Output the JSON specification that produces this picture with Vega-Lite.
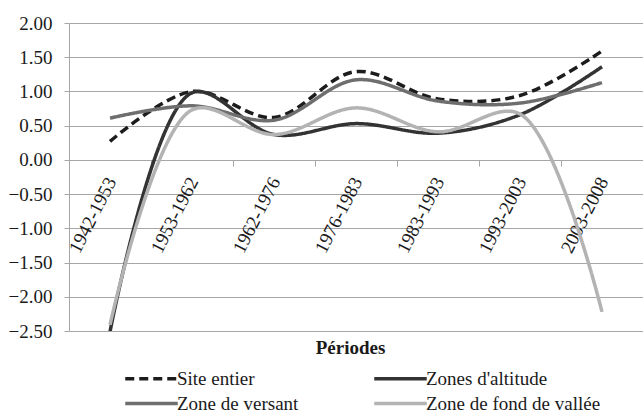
{
  "$schema": "https://vega.github.io/schema/vega-lite/v6.json",
  "width": 574,
  "height": 308,
  "autosize": {"type": "none"},
  "padding": {"left": 69, "top": 23, "right": 0, "bottom": 84},
  "background": "white",
  "config": {
    "font": "Times New Roman",
    "view": {"stroke": null},
    "axis": {"labelFont": "Times New Roman", "titleFont": "Times New Roman", "labelColor": "#1a1a1a", "titleColor": "#1a1a1a"},
    "legend": {"labelFont": "Times New Roman"}
  },
  "data": {
    "values": [
      {"serie": "Site entier", "periode": "1942-1953", "valeur": 0.27},
      {"serie": "Site entier", "periode": "1953-1962", "valeur": 1.00},
      {"serie": "Site entier", "periode": "1962-1976", "valeur": 0.62},
      {"serie": "Site entier", "periode": "1976-1983", "valeur": 1.29},
      {"serie": "Site entier", "periode": "1983-1993", "valeur": 0.89},
      {"serie": "Site entier", "periode": "1993-2003", "valeur": 0.94},
      {"serie": "Site entier", "periode": "2003-2008", "valeur": 1.59},
      {"serie": "Zones d'altitude", "periode": "1942-1953", "valeur": -2.51},
      {"serie": "Zones d'altitude", "periode": "1953-1962", "valeur": 0.98},
      {"serie": "Zones d'altitude", "periode": "1962-1976", "valeur": 0.37},
      {"serie": "Zones d'altitude", "periode": "1976-1983", "valeur": 0.53},
      {"serie": "Zones d'altitude", "periode": "1983-1993", "valeur": 0.39},
      {"serie": "Zones d'altitude", "periode": "1993-2003", "valeur": 0.66},
      {"serie": "Zones d'altitude", "periode": "2003-2008", "valeur": 1.36},
      {"serie": "Zone de versant", "periode": "1942-1953", "valeur": 0.61},
      {"serie": "Zone de versant", "periode": "1953-1962", "valeur": 0.79},
      {"serie": "Zone de versant", "periode": "1962-1976", "valeur": 0.58},
      {"serie": "Zone de versant", "periode": "1976-1983", "valeur": 1.17},
      {"serie": "Zone de versant", "periode": "1983-1993", "valeur": 0.86},
      {"serie": "Zone de versant", "periode": "1993-2003", "valeur": 0.83},
      {"serie": "Zone de versant", "periode": "2003-2008", "valeur": 1.13},
      {"serie": "Zone de fond de vallée", "periode": "1942-1953", "valeur": -2.41},
      {"serie": "Zone de fond de vallée", "periode": "1953-1962", "valeur": 0.73},
      {"serie": "Zone de fond de vallée", "periode": "1962-1976", "valeur": 0.37},
      {"serie": "Zone de fond de vallée", "periode": "1976-1983", "valeur": 0.76},
      {"serie": "Zone de fond de vallée", "periode": "1983-1993", "valeur": 0.41},
      {"serie": "Zone de fond de vallée", "periode": "1993-2003", "valeur": 0.67},
      {"serie": "Zone de fond de vallée", "periode": "2003-2008", "valeur": -2.22}
    ]
  },
  "mark": {"type": "line", "interpolate": "catmull-rom", "strokeWidth": 3.5, "clip": true},
  "encoding": {
    "x": {
      "field": "periode", "type": "nominal", "sort": null,
      "scale": {"type": "band", "paddingInner": 0, "paddingOuter": 0},
      "axis": {
        "offset": -171,
        "title": "Périodes",
        "titleFontSize": 19, "titleFontWeight": "bold",
        "titleY": 193, "titleX": 281, "titleBaseline": "alphabetic", "titleAnchor": null,
        "labelAngle": -63, "labelAlign": "right", "labelBaseline": "middle",
        "labelFontSize": 19, "labelPadding": 12, "labelOffset": 1,
        "tickBand": "extent", "tickSize": 6, "tickColor": "#a6a6a6",
        "domainColor": "#a6a6a6", "grid": false
      }
    },
    "y": {
      "field": "valeur", "type": "quantitative",
      "scale": {"domain": [-2.5, 2], "nice": false, "zero": false},
      "axis": {
        "title": null, "values": [-2.5, -2, -1.5, -1, -0.5, 0, 0.5, 1, 1.5, 2],
        "format": ".2f", "labelFontSize": 19, "labelPadding": 12,
        "tickSize": 5, "tickColor": "#a6a6a6", "domainColor": "#a6a6a6",
        "gridColor": "#a6a6a6", "gridOpacity": 1
      }
    },
    "color": {
      "field": "serie", "type": "nominal",
      "scale": {
        "domain": ["Site entier", "Zones d'altitude", "Zone de versant", "Zone de fond de vallée"],
        "range": ["#1c1c1c", "#333333", "#6e6e6e", "#b3b3b3"]
      },
      "legend": {
        "title": null, "orient": "none", "legendX": 70, "legendY": 343,
        "columns": 2, "direction": "horizontal",
        "symbolType": "M-2.5,0H2.5", "symbolSize": 441, "symbolStrokeWidth": 3.5,
        "labelFontSize": 19, "labelFont": "Times New Roman", "labelColor": "#1a1a1a",
        "labelLimit": 400,
        "labelOffset": 13, "columnPadding": 68, "rowPadding": 2, "padding": 0
      }
    },
    "strokeDash": {
      "field": "serie", "type": "nominal",
      "scale": {
        "domain": ["Site entier", "Zones d'altitude", "Zone de versant", "Zone de fond de vallée"],
        "range": [[9, 5], [1, 0], [1, 0], [1, 0]]
      },
      "legend": {
        "title": null, "orient": "none", "legendX": 70, "legendY": 343,
        "columns": 2, "direction": "horizontal",
        "symbolType": "M-2.5,0H2.5", "symbolSize": 441, "symbolStrokeWidth": 3.5,
        "labelFontSize": 19, "labelFont": "Times New Roman", "labelColor": "#1a1a1a",
        "labelLimit": 400,
        "labelOffset": 13, "columnPadding": 68, "rowPadding": 2, "padding": 0
      }
    }
  }
}
